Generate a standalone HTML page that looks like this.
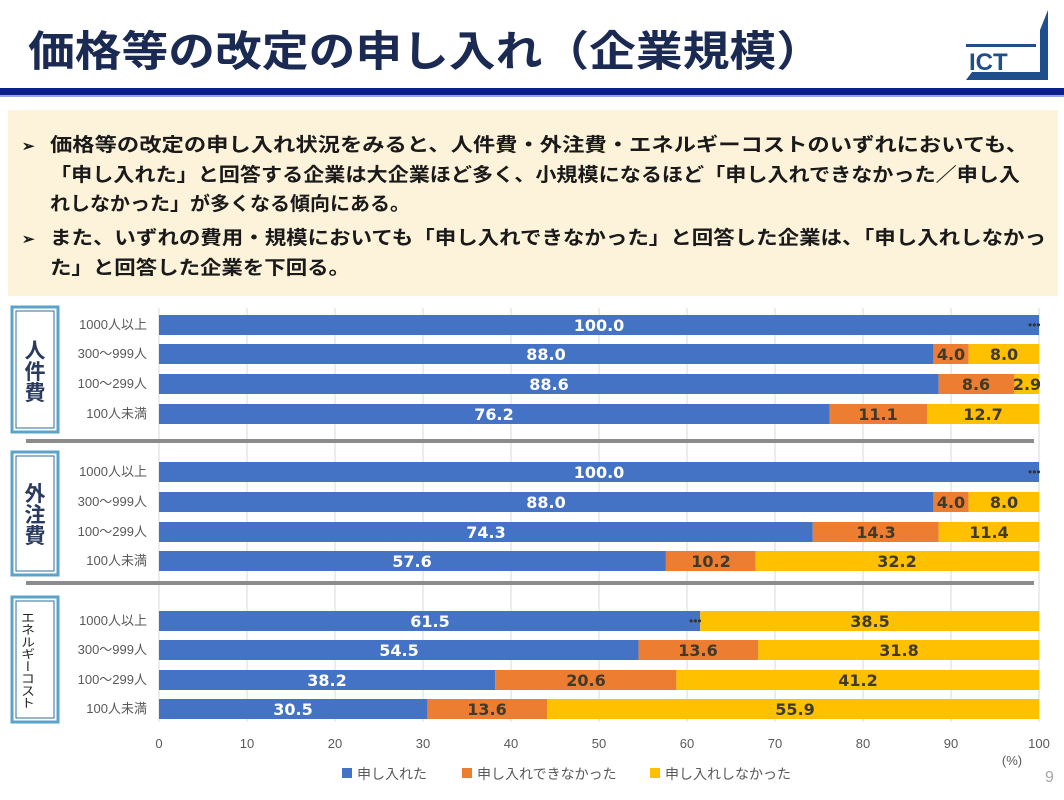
<!DOCTYPE html>
<html><head><meta charset="utf-8"><style>
html,body{margin:0;padding:0;width:1064px;height:800px;background:#fff;overflow:hidden;font-family:"Liberation Sans","Noto Sans CJK JP",sans-serif}
svg text{font-family:"Liberation Sans","Noto Sans CJK JP",sans-serif}
svg .n text{font-family:"DejaVu Sans","Liberation Sans",sans-serif}
</style></head><body>
<svg width="1064" height="800" xmlns="http://www.w3.org/2000/svg">
<text x="28" y="66" font-size="42" font-weight="bold" fill="#1B2A52" textLength="795" lengthAdjust="spacingAndGlyphs">価格等の改定の申し入れ（企業規模）</text>
<g fill="#1F4E8C">
<polygon points="1048,10 1048,80 966,80 972,72 1040,72 1040,30"/>
<rect x="966" y="44" width="70" height="3" fill="#1F4E8C"/>
<text x="969" y="70" font-size="24" font-weight="bold" fill="#1F4E8C">ICT</text>
</g>
<rect x="0" y="88" width="1064" height="7" fill="#0A1F8C"/>
<rect x="0" y="95" width="1064" height="2" fill="#9AA6D8"/>
<rect x="8" y="110" width="1050" height="186" fill="#FDF2DA"/>
<g font-size="19" font-weight="bold" fill="#1a1a1a">
<text x="22" y="151" font-size="15">➢</text>
<text x="50" y="151" textLength="978" lengthAdjust="spacingAndGlyphs">価格等の改定の申し入れ状況をみると、人件費・外注費・エネルギーコストのいずれにおいても、</text>
<text x="50" y="181" textLength="970" lengthAdjust="spacingAndGlyphs">「申し入れた」と回答する企業は大企業ほど多く、小規模になるほど「申し入れできなかった／申し入</text>
<text x="50" y="210" textLength="360" lengthAdjust="spacingAndGlyphs">れしなかった」が多くなる傾向にある。</text>
<text x="22" y="244" font-size="15">➢</text>
<text x="50" y="244" textLength="996" lengthAdjust="spacingAndGlyphs">また、いずれの費用・規模においても「申し入れできなかった」と回答した企業は、「申し入れしなかっ</text>
<text x="50" y="274" textLength="300" lengthAdjust="spacingAndGlyphs">た」と回答した企業を下回る。</text>
</g>
<g stroke="#D9D9D9" stroke-width="1">
<line x1="159" y1="308" x2="159" y2="722"/><line x1="247" y1="308" x2="247" y2="722"/><line x1="335" y1="308" x2="335" y2="722"/><line x1="423" y1="308" x2="423" y2="722"/><line x1="511" y1="308" x2="511" y2="722"/><line x1="599" y1="308" x2="599" y2="722"/><line x1="687" y1="308" x2="687" y2="722"/><line x1="775" y1="308" x2="775" y2="722"/><line x1="863" y1="308" x2="863" y2="722"/><line x1="951" y1="308" x2="951" y2="722"/><line x1="1039" y1="308" x2="1039" y2="722"/>
</g>
<rect x="26" y="439" width="1008" height="4" fill="#8C8C8C"/>
<rect x="26" y="581" width="1008" height="4" fill="#8C8C8C"/>
<g fill="#fff" stroke="#5BA3C9" stroke-width="3">
<rect x="12" y="307" width="46" height="125"/><rect x="12" y="452" width="46" height="123"/><rect x="12" y="597" width="46" height="125"/>
</g>
<g fill="none" stroke="#2E6E9E" stroke-width="1">
<rect x="16" y="311" width="38" height="117"/><rect x="16" y="456" width="38" height="115"/><rect x="16" y="601" width="38" height="117"/>
</g>
<g font-size="21" font-weight="bold" fill="#2A3B5F" text-anchor="middle">
<text x="35" y="358">人</text><text x="35" y="379">件</text><text x="35" y="400">費</text>
<text x="35" y="501">外</text><text x="35" y="522">注</text><text x="35" y="543">費</text>
</g>
<text x="28" y="611" font-size="14" fill="#222" style="writing-mode:vertical-rl" textLength="98" lengthAdjust="spacingAndGlyphs">エネルギーコスト</text>
<g font-size="13" fill="#595959" text-anchor="end">
<text x="147" y="329">1000人以上</text><text x="147" y="358">300～999人</text><text x="147" y="388">100～299人</text><text x="147" y="418">100人未満</text>
<text x="147" y="476">1000人以上</text><text x="147" y="506">300～999人</text><text x="147" y="536">100～299人</text><text x="147" y="565">100人未満</text>
<text x="147" y="625">1000人以上</text><text x="147" y="654">300～999人</text><text x="147" y="684">100～299人</text><text x="147" y="713">100人未満</text>
</g>
<g>
<rect x="159" y="315" width="880" height="20" fill="#4472C4"/>
<rect x="159" y="344" width="774.4" height="20" fill="#4472C4"/><rect x="933.4" y="344" width="35.2" height="20" fill="#ED7D31"/><rect x="968.6" y="344" width="70.4" height="20" fill="#FFC000"/>
<rect x="159" y="374" width="779.7" height="20" fill="#4472C4"/><rect x="938.7" y="374" width="75.7" height="20" fill="#ED7D31"/><rect x="1014.4" y="374" width="24.6" height="20" fill="#FFC000"/>
<rect x="159" y="404" width="670.6" height="20" fill="#4472C4"/><rect x="829.6" y="404" width="97.6" height="20" fill="#ED7D31"/><rect x="927.2" y="404" width="111.8" height="20" fill="#FFC000"/>
<rect x="159" y="462" width="880" height="20" fill="#4472C4"/>
<rect x="159" y="492" width="774.4" height="20" fill="#4472C4"/><rect x="933.4" y="492" width="35.2" height="20" fill="#ED7D31"/><rect x="968.6" y="492" width="70.4" height="20" fill="#FFC000"/>
<rect x="159" y="522" width="653.8" height="20" fill="#4472C4"/><rect x="812.8" y="522" width="125.9" height="20" fill="#ED7D31"/><rect x="938.7" y="522" width="100.3" height="20" fill="#FFC000"/>
<rect x="159" y="551" width="506.9" height="20" fill="#4472C4"/><rect x="665.9" y="551" width="89.7" height="20" fill="#ED7D31"/><rect x="755.6" y="551" width="283.4" height="20" fill="#FFC000"/>
<rect x="159" y="611" width="541.2" height="20" fill="#4472C4"/><rect x="700.2" y="611" width="338.8" height="20" fill="#FFC000"/>
<rect x="159" y="640" width="479.6" height="20" fill="#4472C4"/><rect x="638.6" y="640" width="119.7" height="20" fill="#ED7D31"/><rect x="758.3" y="640" width="280.7" height="20" fill="#FFC000"/>
<rect x="159" y="670" width="336.2" height="20" fill="#4472C4"/><rect x="495.2" y="670" width="181.2" height="20" fill="#ED7D31"/><rect x="676.4" y="670" width="362.6" height="20" fill="#FFC000"/>
<rect x="159" y="699" width="268.4" height="20" fill="#4472C4"/><rect x="427.4" y="699" width="119.7" height="20" fill="#ED7D31"/><rect x="547.1" y="699" width="491.9" height="20" fill="#FFC000"/>
</g>
<g class="n" font-size="16" font-weight="bold" text-anchor="middle" fill="#fff">
<text x="599" y="331">100.0</text><text x="546" y="360">88.0</text><text x="549" y="390">88.6</text><text x="494" y="420">76.2</text>
<text x="599" y="478">100.0</text><text x="546" y="508">88.0</text><text x="486" y="538">74.3</text><text x="412" y="567">57.6</text>
<text x="430" y="627">61.5</text><text x="399" y="656">54.5</text><text x="327" y="686">38.2</text><text x="293" y="715">30.5</text>
</g>
<g class="n" font-size="16" font-weight="bold" text-anchor="middle" fill="#3F3A2A">
<text x="951" y="360">4.0</text><text x="1004" y="360">8.0</text>
<text x="976" y="390">8.6</text><text x="1027" y="390">2.9</text>
<text x="878" y="420">11.1</text><text x="983" y="420">12.7</text>
<text x="951" y="508">4.0</text><text x="1004" y="508">8.0</text>
<text x="876" y="538">14.3</text><text x="989" y="538">11.4</text>
<text x="711" y="567">10.2</text><text x="897" y="567">32.2</text>
<text x="870" y="627">38.5</text>
<text x="698" y="656">13.6</text><text x="899" y="656">31.8</text>
<text x="586" y="686">20.6</text><text x="858" y="686">41.2</text>
<text x="487" y="715">13.6</text><text x="795" y="715">55.9</text>
</g>
<g font-size="12" fill="#333"><text x="1028" y="329">•••</text><text x="1028" y="476">•••</text><text x="689" y="625">•••</text></g>
<g font-size="13" fill="#595959" text-anchor="middle">
<text x="159" y="748">0</text><text x="247" y="748">10</text><text x="335" y="748">20</text><text x="423" y="748">30</text><text x="511" y="748">40</text><text x="599" y="748">50</text><text x="687" y="748">60</text><text x="775" y="748">70</text><text x="863" y="748">80</text><text x="951" y="748">90</text><text x="1039" y="748">100</text>
<text x="1012" y="765">(%)</text>
</g>
<g font-size="14" fill="#595959">
<rect x="342" y="768" width="10" height="10" fill="#4472C4"/><text x="357" y="779">申し入れた</text>
<rect x="462" y="768" width="10" height="10" fill="#ED7D31"/><text x="477" y="779">申し入れできなかった</text>
<rect x="650" y="768" width="10" height="10" fill="#FFC000"/><text x="665" y="779">申し入れしなかった</text>
</g>
<text x="1045" y="782" font-size="16" fill="#A6A6A6">9</text>
</svg>
</body></html>
